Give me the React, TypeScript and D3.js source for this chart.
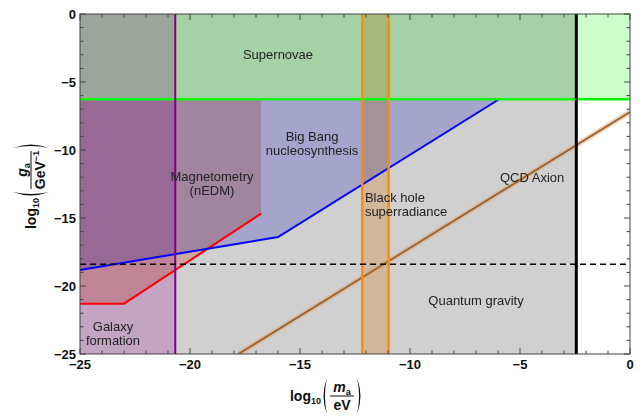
import React from "react";
import * as d3 from "d3";

type P = [number, number];

// ---- data (log10 m_a [eV], log10 g_a [GeV^-1]) ----
const X_DOMAIN: P = [-25, 0];
const Y_DOMAIN: P = [-25, 0];
const MAJOR_TICKS = [-25, -20, -15, -10, -5, 0];
const MINOR_TICKS = d3.range(-25, 1, 1);

const SUPERNOVA_LIMIT = -6.27; // g below this allowed
const GALAXY_MASS = -20.67; // purple vertical line
const BLACK_HOLE_MASSES: P = [-12.17, -10.97];
const QG_MASS = -2.44; // black vertical line
const DASHED_COUPLING = -18.4;

const RED_LINE: P[] = [[-25, -21.3], [-23, -21.3], [-16.77, -14.68]];
const BLUE_LINE: P[] = [[-25, -18.82], [-16, -16.4], [-5.95, -6.27]];
const QCD_LINE: P[] = [[-17.8, -25], [0, -7.2]];

const MAGNETO_REGION: P[] = [
  [-25, -6.27], [-16.77, -6.27], [-16.77, -14.68], [-23, -21.3], [-25, -21.3],
];
const BBN_REGION: P[] = [[-25, -6.27], [-5.95, -6.27], [-16, -16.4], [-25, -18.82]];

const LABELS: { lines: string[]; x: number; y: number[]; anchor: string }[] = [
  { lines: ["Supernovae"], x: -16.0, y: [-3.0], anchor: "middle" },
  { lines: ["Big Bang", "nucleosynthesis"], x: -14.45, y: [-8.98, -10.0], anchor: "middle" },
  { lines: ["Magnetometry", "(nEDM)"], x: -19.0, y: [-11.97, -13.0], anchor: "middle" },
  { lines: ["Black hole", "superradiance"], x: -12.05, y: [-13.5, -14.52], anchor: "start" },
  { lines: ["QCD Axion"], x: -4.45, y: [-11.99], anchor: "middle" },
  { lines: ["Quantum gravity"], x: -7.0, y: [-21.03], anchor: "middle" },
  { lines: ["Galaxy", "formation"], x: -23.5, y: [-23.0, -24.0], anchor: "middle" },
];

const L = 80, R = 630, T = 14, B = 354;

const fmt = (v: number) => (v < 0 ? "\u2212" + Math.abs(v) : String(v));

function Paren({ x, flip }: { x: number; flip?: boolean }) {
  const s = flip ? -1 : 1;
  const d = `M${x + 5 * s},-18 Q${x - 2 * s},0 ${x + 5 * s},18 Q${x + 0.8 * s},0 ${x + 5 * s},-18 Z`;
  return <path d={d} fill="#111" />;
}

function Title({
  transform, num, den, w,
}: { transform: string; num: React.ReactNode; den: React.ReactNode; w: number }) {
  const fx = 8;
  return (
    <g transform={transform} fontFamily="Liberation Sans, Arial, sans-serif" fontWeight="bold" fill="#111">
      <text x={-1} y={5} textAnchor="end" fontSize={14}>
        log<tspan fontSize={9} dy={3}>10</tspan>
      </text>
      <Paren x={0} />
      <text x={fx + w / 2} y={-4} textAnchor="middle" fontSize={14}>{num}</text>
      <line x1={fx} x2={fx + w} y1={0} y2={0} stroke="#111" strokeWidth={1} />
      <text x={fx + w / 2} y={14} textAnchor="middle" fontSize={14}>{den}</text>
      <Paren x={fx + w + 8} flip />
    </g>
  );
}

export default function App() {
  const x = d3.scaleLinear().domain(X_DOMAIN).range([L, R]);
  const y = d3.scaleLinear().domain(Y_DOMAIN).range([B, T]);
  const line = d3.line<P>().x((d) => x(d[0])).y((d) => y(d[1]));
  const poly = (pts: P[]) => line(pts) + "Z";
  const rect = (x0: number, x1: number, y0: number, y1: number) =>
    poly([[x0, y0], [x1, y0], [x1, y1], [x0, y1]]);
  const mul = { mixBlendMode: "multiply" as const };

  return (
    <svg width={640} height={417} style={{ position: "absolute", left: 0, top: 0, background: "#fff" }}>
      <defs>
        <clipPath id="plot">
          <rect x={L} y={T} width={R - L} height={B - T} />
        </clipPath>
      </defs>
      <rect x={0} y={0} width={640} height={417} fill="#fff" />
      <g clipPath="url(#plot)" style={{ isolation: "isolate" }}>
        {/* quantum gravity (gray) */}
        <path d={rect(X_DOMAIN[0], QG_MASS, Y_DOMAIN[0], Y_DOMAIN[1])} fill="rgb(208,208,208)" />
        {/* supernovae */}
        <path d={rect(X_DOMAIN[0], X_DOMAIN[1], SUPERNOVA_LIMIT, Y_DOMAIN[1])} fill="rgb(204,255,204)" style={mul} />
        {/* galaxy formation */}
        <path d={rect(X_DOMAIN[0], GALAXY_MASS, Y_DOMAIN[0], Y_DOMAIN[1])} fill="rgb(240,202,240)" style={mul} />
        {/* magnetometry */}
        <path d={poly(MAGNETO_REGION)} fill="rgb(250,205,198)" style={mul} />
        {/* BBN */}
        <path d={poly(BBN_REGION)} fill="rgb(202,202,250)" style={mul} />
        {/* black hole superradiance band */}
        <path d={rect(BLACK_HOLE_MASSES[0], BLACK_HOLE_MASSES[1], Y_DOMAIN[0], Y_DOMAIN[1])} fill="rgb(255,225,192)" style={mul} />

        {/* QCD axion */}
        <path d={line(QCD_LINE)!} stroke="rgb(215,170,125)" strokeOpacity={0.55} strokeWidth={5} fill="none" />
        <path d={line(QCD_LINE)!} stroke="#a0622d" strokeWidth={1.8} fill="none" />

        <path d={line(RED_LINE)!} stroke="#ff0000" strokeWidth={2} fill="none" />
        <path d={line(BLUE_LINE)!} stroke="#0000ff" strokeWidth={2} fill="none" />

        <path d={line([[X_DOMAIN[0], SUPERNOVA_LIMIT], [X_DOMAIN[1], SUPERNOVA_LIMIT]])!} stroke="#00ff00" strokeWidth={2.5} />
        <path d={line([[GALAXY_MASS, Y_DOMAIN[0]], [GALAXY_MASS, Y_DOMAIN[1]]])!} stroke="#800080" strokeWidth={2} />
        {BLACK_HOLE_MASSES.map((m) => (
          <path key={m} d={line([[m, Y_DOMAIN[0]], [m, Y_DOMAIN[1]]])!} stroke="#ff8c00" strokeWidth={2.5} />
        ))}
        <path d={line([[QG_MASS, Y_DOMAIN[0]], [QG_MASS, Y_DOMAIN[1]]])!} stroke="#000" strokeWidth={3} />
        <path d={line([[X_DOMAIN[0], DASHED_COUPLING], [X_DOMAIN[1], DASHED_COUPLING]])!} stroke="#000" strokeWidth={1.6} strokeDasharray="6,4" />

        {LABELS.map((lb, i) => (
          <text key={i} fontFamily="Liberation Sans, Arial, sans-serif" fontSize={13} fill="#222" textAnchor={lb.anchor as any}>
            {lb.lines.map((t, j) => (
              <tspan key={j} x={x(lb.x)} y={y(lb.y[j]) + 4.5}>{t}</tspan>
            ))}
          </text>
        ))}
      </g>

      {/* frame and ticks */}
      <rect x={L} y={T} width={R - L} height={B - T} fill="none" stroke="#444" strokeWidth={1} />
      <g stroke="#444" strokeWidth={1}>
        {MINOR_TICKS.map((v) => {
          const len = MAJOR_TICKS.includes(v) ? 6 : 3.5;
          return (
            <g key={v}>
              <line x1={x(v)} x2={x(v)} y1={B} y2={B - len} />
              <line x1={x(v)} x2={x(v)} y1={T} y2={T + len} />
              <line y1={y(v)} y2={y(v)} x1={L} x2={L + len} />
              <line y1={y(v)} y2={y(v)} x1={R} x2={R - len} />
            </g>
          );
        })}
      </g>
      <g fontFamily="Liberation Sans, Arial, sans-serif" fontWeight="bold" fontSize={13} fill="#111">
        {MAJOR_TICKS.map((v) => (
          <text key={"x" + v} x={x(v)} y={369} textAnchor="middle">{fmt(v)}</text>
        ))}
        {MAJOR_TICKS.map((v) => (
          <text key={"y" + v} x={L - 4} y={y(v) + 4.5} textAnchor="end">{fmt(v)}</text>
        ))}
      </g>

      <Title
        transform="translate(322,396)"
        w={24}
        num={<><tspan fontStyle="italic">m</tspan><tspan fontSize={9} dy={3}>a</tspan></>}
        den={"eV"}
      />
      <Title
        transform="translate(31,197) rotate(-90)"
        w={38}
        num={<><tspan fontStyle="italic">g</tspan><tspan fontSize={9} dy={3}>a</tspan></>}
        den={<>GeV<tspan fontSize={9} dy={-6}>{"\u22121"}</tspan></>}
      />
    </svg>
  );
}
